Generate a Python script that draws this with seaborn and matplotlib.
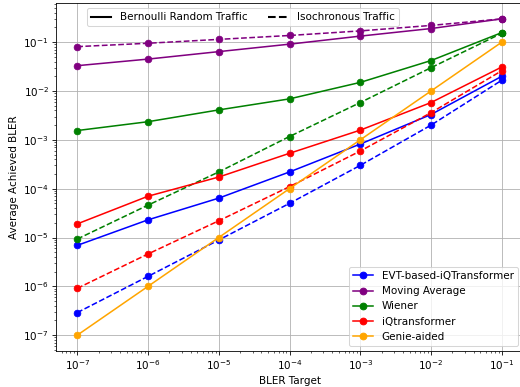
import numpy as np
import matplotlib
matplotlib.use("Agg")
import matplotlib.pyplot as plt
import seaborn as sns
from matplotlib.lines import Line2D

# BLER targets (x axis)
targets = [1e-7, 1e-6, 1e-5, 1e-4, 1e-3, 1e-2, 1e-1]

# Bernoulli random traffic (solid)
evt_bern = [6.9e-6, 2.3e-5, 6.4e-5, 2.2e-4, 8.2e-4, 3.3e-3, 2.0e-2]
ma_bern = [0.033, 0.045, 0.064, 0.091, 0.133, 0.19, 0.30]
wiener_bern = [1.55e-3, 2.35e-3, 4.1e-3, 6.9e-3, 1.5e-2, 0.042, 0.157]
iqt_bern = [1.9e-5, 7.0e-5, 1.73e-4, 5.3e-4, 1.58e-3, 5.8e-3, 0.031]
genie = [1e-7, 1e-6, 1e-5, 1e-4, 1e-3, 1e-2, 1e-1]

# Isochronous traffic (dashed)
evt_iso = [2.9e-7, 1.6e-6, 8.9e-6, 5.0e-5, 3.0e-4, 2.0e-3, 0.0166]
ma_iso = [0.081, 0.095, 0.114, 0.137, 0.17, 0.22, 0.30]
wiener_iso = [9.3e-6, 4.6e-5, 2.2e-4, 1.17e-3, 5.8e-3, 0.030, 0.152]
iqt_iso = [9.1e-7, 4.6e-6, 2.2e-5, 1.1e-4, 5.9e-4, 3.6e-3, 0.026]

methods = ["EVT-based-iQTransformer", "Moving Average", "Wiener", "iQtransformer", "Genie-aided"]
colors = ["blue", "purple", "green", "red", "orange"]
solid_data = [evt_bern, ma_bern, wiener_bern, iqt_bern, genie]
dashed_data = [evt_iso, ma_iso, wiener_iso, iqt_iso, None]

fig = plt.figure(figsize=(7.0, 5.21), dpi=74.29)
ax = fig.add_axes([0.1077, 0.093, 0.898, 0.899])

for name, c, ys, yd in zip(methods, colors, solid_data, dashed_data):
    sns.lineplot(x=targets, y=ys, color=c, marker="o", linestyle="-",
                 markeredgecolor=c, markersize=6.5, linewidth=1.5, ax=ax)
    if yd is not None:
        sns.lineplot(x=targets, y=yd, color=c, marker="o", linestyle="--",
                     markeredgecolor=c, markersize=6.5, linewidth=1.5, ax=ax)

ax.set_xscale("log")
ax.set_yscale("log")
ax.set_xlabel("BLER Target")
ax.set_ylabel("Average Achieved BLER")
ax.grid(True, which="major")

# legend for methods
method_handles = [Line2D([0], [0], color=c, marker="o", linestyle="-", markersize=6.5)
                  for c in colors]
leg1 = ax.legend(method_handles, methods, loc="lower right")
ax.add_artist(leg1)

# legend for traffic type
style_handles = [Line2D([0], [0], color="black", linestyle="-", linewidth=2),
                 Line2D([0], [0], color="black", linestyle="--", linewidth=2)]
ax.legend(style_handles, ["Bernoulli Random Traffic", "Isochronous Traffic"],
          loc="upper center", bbox_to_anchor=(0.4, 1.0), ncol=2)

plt.savefig("out.png", dpi=74.29)
